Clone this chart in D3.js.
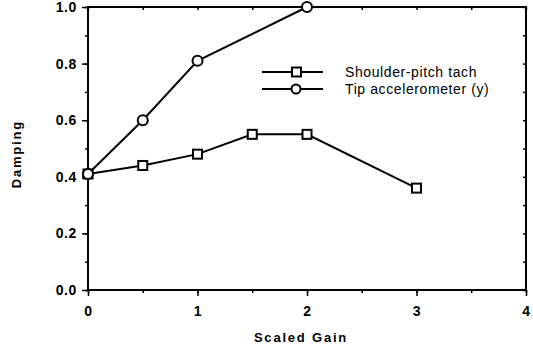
<!DOCTYPE html>
<html>
<head>
<meta charset="utf-8">
<script src="https://cdn.jsdelivr.net/npm/d3@7"></script>
<style>
  body { margin: 0; background: #fff; }
  svg text { font-family: "Liberation Sans", Arial, sans-serif; fill: #000; }
</style>
</head>
<body>
<div id="chart"></div>
<script>
// data
var shoulderGain = [0, 0.5, 1, 1.5, 2, 3]
var shoulderDamping = [0.41, 0.44, 0.48, 0.55, 0.55, 0.36]
var tipGain = [0, 0.5, 1, 2]
var tipDamping = [0.41, 0.60, 0.81, 1.0]
var xTicks = [0, 1, 2, 3, 4]
var yTicks = [0, 0.2, 0.4, 0.6, 0.8, 1.0]

var width = 533, height = 351
var plotLeft = 88, plotRight = 526, plotTop = 7, plotBottom = 290

var svg = d3.select("#chart").append("svg")
    .attr("width", width)
    .attr("height", height)

var x = d3.scaleLinear().domain([0, 4]).range([plotLeft, plotRight])
var y = d3.scaleLinear().domain([0, 1]).range([plotBottom, plotTop])

// minor ticks
var xMinor = d3.range(0, 4.01, 0.5)
var yMinor = d3.range(0, 1.01, 0.1)

var bottomAxis = svg.append("g")
    .attr("transform", "translate(0," + plotBottom + ")")
bottomAxis.call(d3.axisBottom(x).tickValues(xMinor).tickSize(3).tickFormat(""))
bottomAxis.append("g").call(d3.axisBottom(x).tickValues(xTicks).tickSize(6).tickPadding(10).tickFormat(d3.format("d")))

var leftAxis = svg.append("g")
    .attr("transform", "translate(" + plotLeft + ",0)")
leftAxis.call(d3.axisLeft(y).tickValues(yMinor).tickSize(3).tickFormat(""))
leftAxis.append("g").call(d3.axisLeft(y).tickValues(yTicks).tickSize(6).tickPadding(5).tickFormat(d3.format(".1f")))

svg.append("g")
    .attr("transform", "translate(" + plotRight + ",0)")
    .call(d3.axisLeft(y).tickValues(yMinor).tickSize(3).tickFormat(""))
svg.append("g")
    .attr("transform", "translate(0," + plotTop + ")")
    .call(d3.axisBottom(x).tickValues(xMinor).tickSize(3).tickFormat(""))

svg.selectAll(".domain").remove()
svg.selectAll(".tick line").attr("stroke", "#000").attr("stroke-width", 1.5)
svg.selectAll(".tick text")
    .attr("font-size", 14)
    .attr("font-weight", "bold")
    .attr("letter-spacing", 0.6)
    .style("font-family", "'Liberation Sans', Arial, sans-serif")

// frame
svg.append("rect")
    .attr("x", plotLeft).attr("y", plotTop)
    .attr("width", plotRight - plotLeft).attr("height", plotBottom - plotTop)
    .attr("fill", "none").attr("stroke", "#000").attr("stroke-width", 2)

var line = d3.line()
    .x(function (d) { return x(d[0]) })
    .y(function (d) { return y(d[1]) })

var shoulderPts = shoulderGain.map(function (g, i) { return [g, shoulderDamping[i]] })
var tipPts = tipGain.map(function (g, i) { return [g, tipDamping[i]] })

svg.append("path").datum(shoulderPts)
    .attr("d", line).attr("fill", "none").attr("stroke", "#000").attr("stroke-width", 2)
svg.append("path").datum(tipPts)
    .attr("d", line).attr("fill", "none").attr("stroke", "#000").attr("stroke-width", 2)

svg.selectAll(".sq").data(shoulderPts).enter().append("rect")
    .attr("x", function (d) { return x(d[0]) - 4.5 })
    .attr("y", function (d) { return y(d[1]) - 4.5 })
    .attr("width", 9).attr("height", 9)
    .attr("fill", "#fff").attr("stroke", "#000").attr("stroke-width", 2)

svg.selectAll(".ci").data(tipPts).enter().append("circle")
    .attr("cx", function (d) { return x(d[0]) })
    .attr("cy", function (d) { return y(d[1]) })
    .attr("r", 5)
    .attr("fill", "#fff").attr("stroke", "#000").attr("stroke-width", 2)

// legend
var legend = svg.append("g")
legend.append("line").attr("x1", 262).attr("x2", 323).attr("y1", 72).attr("y2", 72)
    .attr("stroke", "#000").attr("stroke-width", 2)
legend.append("rect").attr("x", 292).attr("y", 67.5).attr("width", 9).attr("height", 9)
    .attr("fill", "#fff").attr("stroke", "#000").attr("stroke-width", 2)
legend.append("line").attr("x1", 262).attr("x2", 323).attr("y1", 89).attr("y2", 89)
    .attr("stroke", "#000").attr("stroke-width", 2)
legend.append("circle").attr("cx", 296).attr("cy", 89).attr("r", 4.5)
    .attr("fill", "#fff").attr("stroke", "#000").attr("stroke-width", 2)
legend.append("text").attr("x", 345).attr("y", 77).attr("font-size", 14)
    .attr("letter-spacing", 0.6)
    .text("Shoulder-pitch tach")
legend.append("text").attr("x", 345).attr("y", 93.5).attr("font-size", 14)
    .attr("letter-spacing", 0.6)
    .text("Tip accelerometer (y)")

// axis titles
svg.append("text")
    .attr("x", 301).attr("y", 342)
    .attr("text-anchor", "middle")
    .attr("font-size", 13).attr("font-weight", "bold")
    .attr("letter-spacing", 1.8)
    .text("Scaled Gain")
svg.append("text")
    .attr("transform", "translate(21," + y(0.48) + ") rotate(-90)")
    .attr("text-anchor", "middle")
    .attr("font-size", 13).attr("font-weight", "bold")
    .attr("letter-spacing", 1.8)
    .text("Damping")
</script>
</body>
</html>
